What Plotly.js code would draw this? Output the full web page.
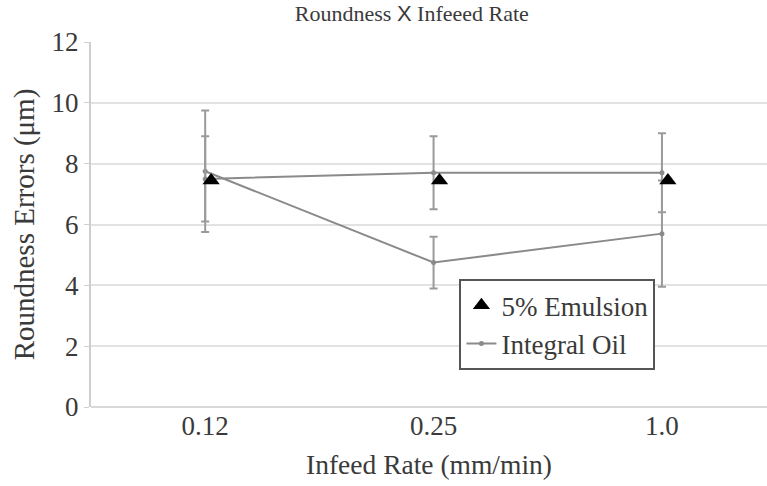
<!DOCTYPE html>
<html>
<head>
<meta charset="utf-8">
<script src="https://cdn.plot.ly/plotly-3.0.1.min.js"></script>
<style>html,body{margin:0;padding:0;background:#fff;}#chart{width:767px;height:486px;}</style>
</head>
<body>
<div id="chart"></div>
<script>
const rates = ["0.12", "0.25", "1.0"];
const emulsionMean = [7.5, 7.7, 7.7];
const emulsionErr = [1.4, 1.2, 1.3];
const oilMean = [7.75, 4.75, 5.7];
const oilErr = [2.0, 0.85, 1.75];
const emulsionMarker = [7.45, 7.45, 7.45];
const seriesNames = ["5% Emulsion", "Integral Oil"];

const gray = "#8a8a8a";
const errStyle = (arr) => ({type: "data", array: arr, visible: true, color: "#9a9a9a", thickness: 2, width: 4});

const traces = [
  {x: rates, y: oilMean, error_y: errStyle(oilErr), mode: "lines+markers", name: seriesNames[1],
   line: {color: gray, width: 2}, marker: {color: gray, size: 5, symbol: "circle"}, showlegend: true, legendrank: 2},
  {x: rates, y: emulsionMean, error_y: errStyle(emulsionErr), mode: "lines+markers", name: seriesNames[0] + " line",
   line: {color: gray, width: 2}, marker: {color: gray, size: 5}, showlegend: false},
  {x: rates, y: emulsionMarker, xaxis: "x2", mode: "markers", name: seriesNames[0],
   marker: {color: "#000", size: 15, symbol: "triangle-up"}, showlegend: true, legendrank: 1}
];

const serif = "Liberation Serif";
const txt = "#3a3a3a";
const layout = {
  width: 767, height: 486,
  margin: {l: 91, r: 0, t: 42, b: 79},
  paper_bgcolor: "#fff", plot_bgcolor: "#fff",
  font: {family: serif, color: txt, size: 20},
  title: {text: "Roundness <span style=\"font-family:Liberation Sans\">X</span> Infeeed Rate",
          font: {family: serif, size: 22, color: txt},
          x: 0.537, xanchor: "center", y: 0.972, yanchor: "middle"},
  xaxis: {type: "category", range: [-0.5, 2.46], showgrid: false, zeroline: false,
          showline: false, ticks: "", tickfont: {family: serif, size: 27, color: txt},
          title: {text: "Infeed Rate (mm/min)", font: {family: serif, size: 27.5, color: txt}, standoff: 14}},
  xaxis2: {type: "category", overlaying: "x", range: [-0.526, 2.434], visible: false},
  yaxis: {range: [0, 12], dtick: 2, showgrid: true, gridcolor: "#e2e2e2", gridwidth: 2,
          zeroline: true, zerolinecolor: "#d8d8d8", zerolinewidth: 2,
          showline: true, linecolor: "#cfcfcf", linewidth: 2,
          ticks: "outside", ticklen: 5, tickcolor: "#cfcfcf", tickfont: {family: serif, size: 27, color: txt},
          title: {text: "Roundness Errors (μm)", font: {family: serif, size: 29, color: txt}, standoff: 8}},
  legend: {x: 0.545, xanchor: "left", y: 0.35, yanchor: "top", bgcolor: "#fff",
           bordercolor: "#555", borderwidth: 2, font: {family: serif, size: 27, color: txt},
           itemwidth: 30, tracegroupgap: 0}
};

Plotly.newPlot("chart", traces, layout, {displayModeBar: false, staticPlot: true});
</script>
</body>
</html>
